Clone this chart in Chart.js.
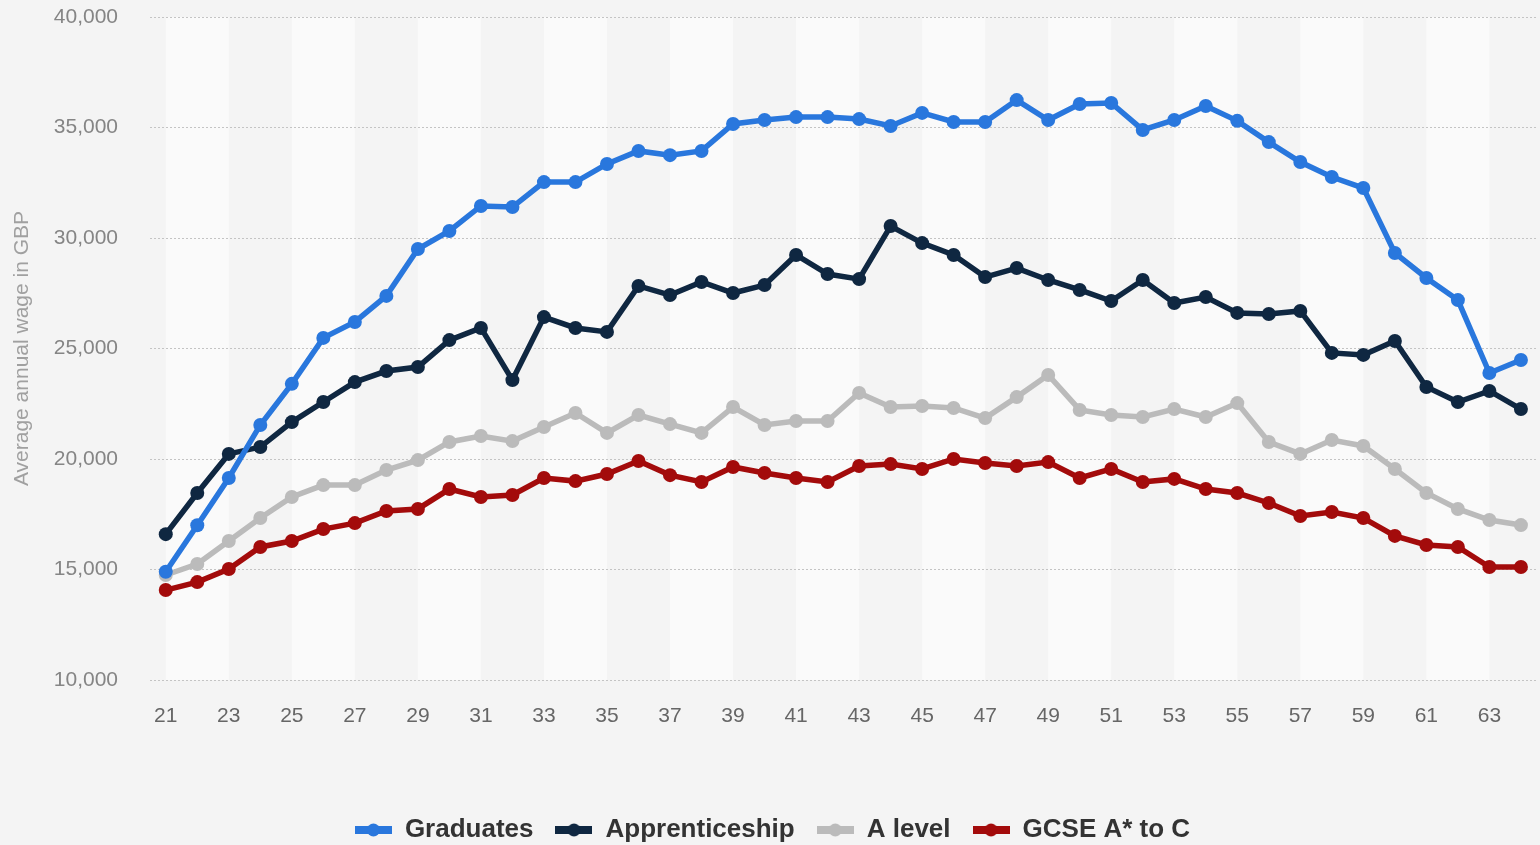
<!DOCTYPE html>
<html>
<head>
<meta charset="utf-8">
<script src="https://cdn.jsdelivr.net/npm/chart.js@4/dist/chart.umd.min.js"></script>
<style>
  html, body { margin: 0; padding: 0; background: #f4f4f4; overflow: hidden; }
  #wrap { position: relative; width: 1545px; height: 853px; }
</style>
</head>
<body>
<div id="wrap"><canvas id="chart"></canvas></div>
<script>
const AGES = [21, 22, 23, 24, 25, 26, 27, 28, 29, 30, 31, 32, 33, 34, 35, 36, 37, 38, 39, 40, 41, 42,
  43, 44, 45, 46, 47, 48, 49, 50, 51, 52, 53, 54, 55, 56, 57, 58, 59, 60, 61, 62, 63, 64];

const GRADUATES = [14900, 17000, 19140, 21540, 23400, 25480, 26200, 27380, 29500, 30320, 31450, 31400,
  32530, 32530, 33350, 33940, 33750, 33940, 35160, 35340, 35470, 35470, 35380, 35070, 35660, 35250,
  35250, 36240, 35340, 36060, 36110, 34890, 35340, 35970, 35300, 34340, 33440, 32760, 32260, 29320,
  28190, 27190, 23890, 24480];

const APPRENTICESHIP = [16600, 18460, 20230, 20540, 21670, 22580, 23480, 23980, 24160, 25380, 25930,
  23570, 26420, 25930, 25750, 27830, 27420, 28010, 27510, 27870, 29230, 28370, 28140, 30540, 29770,
  29230, 28230, 28640, 28100, 27650, 27150, 28100, 27060, 27330, 26610, 26560, 26700, 24800, 24710,
  25340, 23260, 22580, 23080, 22260];

const A_LEVEL = [14750, 15250, 16290, 17330, 18280, 18820, 18820, 19500, 19950, 20770, 21040, 20810,
  21450, 22080, 21180, 21990, 21580, 21180, 22350, 21540, 21720, 21720, 22990, 22350, 22400, 22310,
  21850, 22800, 23800, 22220, 21990, 21900, 22260, 21900, 22530, 20770, 20230, 20860, 20590, 19550,
  18460, 17740, 17240, 17010];

const GCSE = [14070, 14430, 15020, 16020, 16290, 16830, 17100, 17650, 17740, 18640, 18280, 18370,
  19140, 19000, 19320, 19910, 19270, 18960, 19640, 19370, 19140, 18960, 19680, 19770, 19550, 20000,
  19820, 19680, 19860, 19140, 19550, 18960, 19100, 18640, 18460, 18010, 17420, 17600, 17330, 16520,
  16110, 16020, 15110, 15110];

const FONT = '"Liberation Sans", Arial, sans-serif';

// legend marker: thick line with a dot in the middle, like the original
function marker(color) {
  const c = document.createElement('canvas');
  c.width = 37; c.height = 14;
  const g = c.getContext('2d');
  g.fillStyle = color;
  g.fillRect(0, 3, 37, 8);
  g.beginPath();
  g.arc(18.5, 7, 6.5, 0, Math.PI * 2);
  g.fill();
  return c;
}

// alternating column bands every two ages
const bands = {
  id: 'bands',
  beforeDraw(chart) {
    const { ctx, chartArea: a, scales: { x } } = chart;
    ctx.save();
    ctx.fillStyle = '#f4f4f4';
    ctx.fillRect(0, 0, chart.width, chart.height);
    ctx.fillStyle = '#fafafa';
    for (let i = 0; i + 2 < AGES.length; i += 4) {
      const l = x.getPixelForValue(i);
      const r = x.getPixelForValue(i + 2);
      ctx.fillRect(l, a.top, r - l, a.bottom - a.top);
    }
    ctx.restore();
  },
};

const series = [
  { label: 'Graduates', data: GRADUATES, color: '#2977dd' },
  { label: 'Apprenticeship', data: APPRENTICESHIP, color: '#0f2741' },
  { label: 'A level', data: A_LEVEL, color: '#bbbbbb' },
  { label: 'GCSE A* to C', data: GCSE, color: '#a30b0b' },
];

new Chart(document.getElementById('chart'), {
  type: 'line',
  data: {
    labels: AGES,
    datasets: series.map((s) => ({
      label: s.label,
      data: s.data,
      borderColor: s.color,
      backgroundColor: s.color,
      borderWidth: 5.5,
      pointRadius: 7,
      pointBorderWidth: 0,
      pointStyle: 'circle',
      tension: 0,
    })),
  },
  options: {
    responsive: true,
    maintainAspectRatio: false,
    animation: false,
    layout: { padding: { top: 17, right: 0, left: 0, bottom: 0 } },
    plugins: {
      tooltip: { enabled: false },
      legend: {
        position: 'bottom',
        labels: {
          usePointStyle: true,
          pointStyleWidth: 37,
          padding: 22,
          color: '#333',
          font: { family: FONT, size: 26, weight: 'bold' },
          generateLabels: (chart) => chart.data.datasets.map((ds, i) => ({
            text: ds.label,
            pointStyle: marker(ds.borderColor),
            fillStyle: ds.borderColor,
            strokeStyle: ds.borderColor,
            lineWidth: 0,
            datasetIndex: i,
            hidden: false,
            fontColor: '#333',
          })),
        },
      },
    },
    scales: {
      x: {
        type: 'category',
        offset: true,
        grid: { display: false, drawTicks: false },
        border: { display: false },
        afterFit: (s) => { s.height = 115; },
        ticks: {
          autoSkip: false,
          maxRotation: 0,
          padding: 24,
          color: '#666',
          font: { family: FONT, size: 21 },
          callback: (v, i) => (i % 2 === 0 ? AGES[i] : ''),
        },
      },
      y: {
        min: 10000,
        max: 40000,
        // fixed axis width; drop the label overhang so the plot starts at the layout padding
        afterFit: (s) => { s.width = 150; s.paddingTop = 0; s.paddingBottom = 0; },
        grid: { color: '#c4c4c4', drawTicks: false, lineWidth: 1 },
        border: { display: false, dash: [2, 2] },
        ticks: {
          stepSize: 5000,
          padding: 32,
          color: '#858585',
          font: { family: FONT, size: 21 },
          callback: (v) => v.toLocaleString('en-US'),
        },
        title: {
          display: true,
          text: 'Average annual wage in GBP',
          color: '#a0a0a0',
          font: { family: FONT, size: 21 },
          padding: { top: 10, bottom: 0 },
        },
      },
    },
  },
  plugins: [bands],
});
</script>
</body>
</html>
